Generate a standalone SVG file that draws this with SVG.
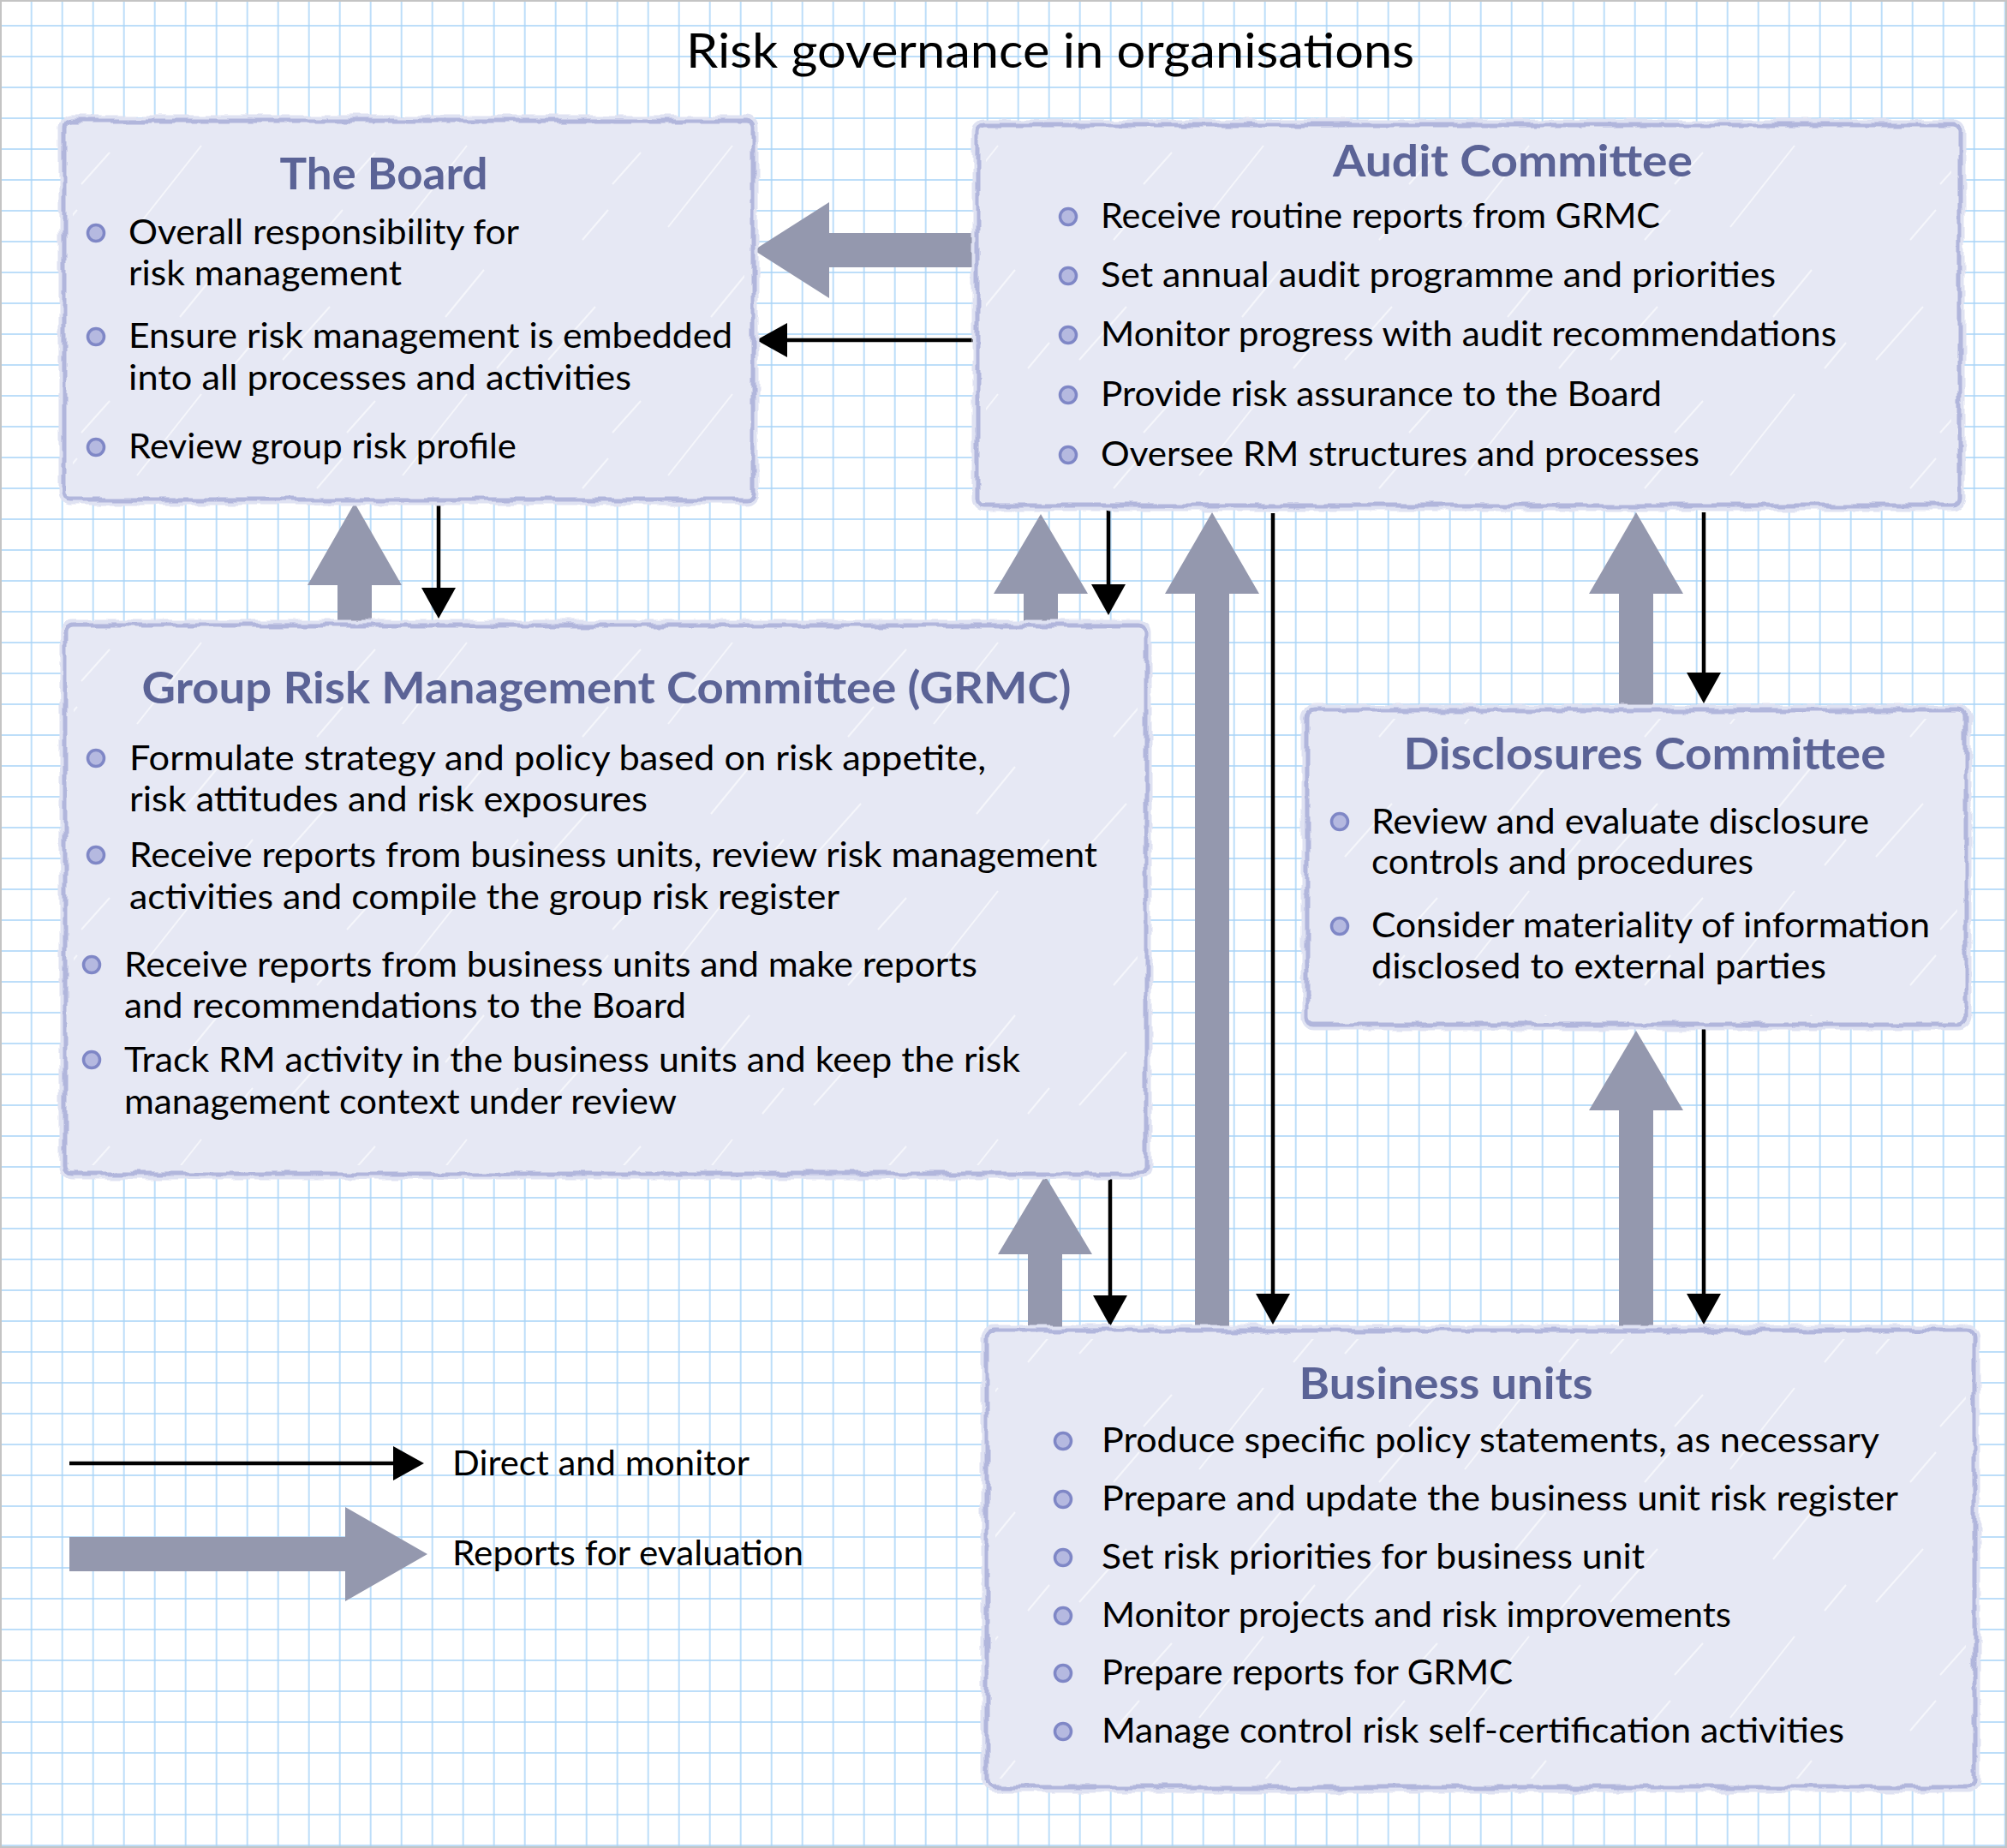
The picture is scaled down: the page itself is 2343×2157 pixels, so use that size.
<svg xmlns="http://www.w3.org/2000/svg" width="2343" height="2157" viewBox="0 0 2343 2157">
<defs>
<style>
.box{fill:#e6e8f4;stroke:#b1b6dc;stroke-width:5}
.halo{fill:none;stroke:#dfe2f2;stroke-width:13}
.scr{fill:url(#scratch)}
.hd{font-family:Lato,"Liberation Sans",sans-serif;font-weight:700;font-size:51px;fill:#5b6396;text-anchor:middle}
.tx{font-family:Lato,"Liberation Sans",sans-serif;font-size:40px;fill:#000}
.ttl{font-family:Lato,"Liberation Sans",sans-serif;font-size:56px;fill:#000;text-anchor:middle}
.bul{fill:#b5b9e0;stroke:#7f87c6;stroke-width:3.5}
.thick{fill:#9498ae}
.thin{stroke:#000;stroke-width:4.5;fill:none}
</style>
<pattern id="grid" patternUnits="userSpaceOnUse" x="18.7" y="12" width="36" height="36">
<path d="M18 0V36M0 18H36" stroke="#a8d4f7" stroke-width="1.5" fill="none"/>
</pattern>
<pattern id="scratch" patternUnits="userSpaceOnUse" width="310" height="290">
<path d="M20 130L75 68M160 265L235 170M95 215L128 178M210 80L255 25M60 280L90 245M270 140L295 110" stroke="#ffffff" stroke-width="2" stroke-opacity="0.6" fill="none"/>
</pattern>
<filter id="rough" x="-3%" y="-3%" width="106%" height="106%">
<feTurbulence type="fractalNoise" baseFrequency="0.04" numOctaves="2" seed="3" result="n"/>
<feDisplacementMap in="SourceGraphic" in2="n" scale="9" xChannelSelector="R" yChannelSelector="G"/>
</filter>
<marker id="ah" markerUnits="userSpaceOnUse" markerWidth="40" markerHeight="44" viewBox="0 -22 40 44" refX="0" refY="0" orient="auto">
<path d="M0 -20L36 0L0 20z" fill="#000"/>
</marker>
</defs>
<rect x="0" y="0" width="2343" height="2157" fill="#ffffff"/>
<rect x="0" y="0" width="2343" height="2157" fill="url(#grid)"/>
<rect x="1" y="1" width="2341" height="2155" fill="none" stroke="#c4c4c4" stroke-width="2"/>

<text class="ttl" x="1226" y="79" textLength="850" lengthAdjust="spacingAndGlyphs">Risk governance in organisations</text>

<g id="connectors">
<polygon class="thick" points="1143,272 968,272 968,236 880,292 968,348 968,312 1143,312"/>
<polygon class="thick" points="394,729 394,683 359,683 414,587 469,683 434,683 434,729"/>
<polygon class="thick" points="1195,727 1195,693 1160,693 1215,600 1270,693 1235,693 1235,727"/>
<polygon class="thick" points="1395,1552 1395,693 1360,693 1415,598 1470,693 1435,693 1435,1552"/>
<polygon class="thick" points="1890,828 1890,693 1855,693 1910,598 1965,693 1930,693 1930,828"/>
<polygon class="thick" points="1890,1552 1890,1296 1855,1296 1910,1203 1965,1296 1930,1296 1930,1552"/>
<polygon class="thick" points="1200,1552 1200,1464 1165,1464 1220,1372 1275,1464 1240,1464 1240,1552"/>
<path class="thin" d="M1141 397H919" marker-end="url(#ah)"/>
<path class="thin" d="M512 587V686" marker-end="url(#ah)"/>
<path class="thin" d="M1294 593V682" marker-end="url(#ah)"/>
<path class="thin" d="M1486 599V1510" marker-end="url(#ah)"/>
<path class="thin" d="M1989 598V785" marker-end="url(#ah)"/>
<path class="thin" d="M1989 1200V1510" marker-end="url(#ah)"/>
<path class="thin" d="M1296 1374V1512" marker-end="url(#ah)"/>
</g>

<g id="board">
<rect class="halo" x="75" y="141" width="804" height="442" rx="8" filter="url(#rough)"/>
<rect class="box" x="75" y="141" width="804" height="442" rx="8" filter="url(#rough)"/>
<rect class="scr" x="85" y="150" width="784" height="424"/>
<text class="hd" x="448" y="221" textLength="243" lengthAdjust="spacingAndGlyphs">The Board</text>
<circle class="bul" cx="112" cy="272" r="9.5"/>
<text class="tx" x="150" y="285" textLength="456" lengthAdjust="spacingAndGlyphs">Overall responsibility for</text>
<text class="tx" x="150" y="333" textLength="319" lengthAdjust="spacingAndGlyphs">risk management</text>
<circle class="bul" cx="112" cy="393" r="9.5"/>
<text class="tx" x="150" y="406" textLength="705" lengthAdjust="spacingAndGlyphs">Ensure risk management is embedded</text>
<text class="tx" x="150" y="455" textLength="587" lengthAdjust="spacingAndGlyphs">into all processes and activities</text>
<circle class="bul" cx="112" cy="522" r="9.5"/>
<text class="tx" x="150" y="535" textLength="453" lengthAdjust="spacingAndGlyphs">Review group risk profile</text>
</g>

<g id="audit">
<rect class="halo" x="1141" y="146" width="1147" height="444" rx="8" filter="url(#rough)"/>
<rect class="box" x="1141" y="146" width="1147" height="444" rx="8" filter="url(#rough)"/>
<rect class="scr" x="1151" y="156" width="1127" height="424"/>
<text class="hd" x="1766" y="206" textLength="420" lengthAdjust="spacingAndGlyphs">Audit Committee</text>
<circle class="bul" cx="1247" cy="253" r="9.5"/>
<text class="tx" x="1285" y="266" textLength="653" lengthAdjust="spacingAndGlyphs">Receive routine reports from GRMC</text>
<circle class="bul" cx="1247" cy="322" r="9.5"/>
<text class="tx" x="1285" y="335" textLength="788" lengthAdjust="spacingAndGlyphs">Set annual audit programme and priorities</text>
<circle class="bul" cx="1247" cy="391" r="9.5"/>
<text class="tx" x="1285" y="404" textLength="859" lengthAdjust="spacingAndGlyphs">Monitor progress with audit recommendations</text>
<circle class="bul" cx="1247" cy="461" r="9.5"/>
<text class="tx" x="1285" y="474" textLength="655" lengthAdjust="spacingAndGlyphs">Provide risk assurance to the Board</text>
<circle class="bul" cx="1247" cy="531" r="9.5"/>
<text class="tx" x="1285" y="544" textLength="699" lengthAdjust="spacingAndGlyphs">Oversee RM structures and processes</text>
</g>

<g id="grmc">
<rect class="halo" x="76" y="730" width="1262" height="640" rx="8" filter="url(#rough)"/>
<rect class="box" x="76" y="730" width="1262" height="640" rx="8" filter="url(#rough)"/>
<rect class="scr" x="86" y="740" width="1242" height="620"/>
<text class="hd" x="708" y="821" textLength="1085" lengthAdjust="spacingAndGlyphs">Group Risk Management Committee (GRMC)</text>
<circle class="bul" cx="112" cy="885" r="9.5"/>
<text class="tx" x="151" y="899" textLength="1000" lengthAdjust="spacingAndGlyphs">Formulate strategy and policy based on risk appetite,</text>
<text class="tx" x="151" y="947" textLength="605" lengthAdjust="spacingAndGlyphs">risk attitudes and risk exposures</text>
<circle class="bul" cx="112" cy="998" r="9.5"/>
<text class="tx" x="151" y="1012" textLength="1130" lengthAdjust="spacingAndGlyphs">Receive reports from business units, review risk management</text>
<text class="tx" x="151" y="1061" textLength="829" lengthAdjust="spacingAndGlyphs">activities and compile the group risk register</text>
<circle class="bul" cx="107" cy="1126" r="9.5"/>
<text class="tx" x="145" y="1140" textLength="996" lengthAdjust="spacingAndGlyphs">Receive reports from business units and make reports</text>
<text class="tx" x="145" y="1188" textLength="656" lengthAdjust="spacingAndGlyphs">and recommendations to the Board</text>
<circle class="bul" cx="107" cy="1237" r="9.5"/>
<text class="tx" x="145" y="1251" textLength="1046" lengthAdjust="spacingAndGlyphs">Track RM activity in the business units and keep the risk</text>
<text class="tx" x="145" y="1300" textLength="645" lengthAdjust="spacingAndGlyphs">management context under review</text>
</g>

<g id="disclosures">
<rect class="halo" x="1526" y="829" width="769" height="367" rx="8" filter="url(#rough)"/>
<rect class="box" x="1526" y="829" width="769" height="367" rx="8" filter="url(#rough)"/>
<rect class="scr" x="1536" y="839" width="749" height="347"/>
<text class="hd" x="1920" y="898" textLength="563" lengthAdjust="spacingAndGlyphs">Disclosures Committee</text>
<circle class="bul" cx="1564" cy="959" r="9.5"/>
<text class="tx" x="1601" y="973" textLength="581" lengthAdjust="spacingAndGlyphs">Review and evaluate disclosure</text>
<text class="tx" x="1601" y="1020" textLength="446" lengthAdjust="spacingAndGlyphs">controls and procedures</text>
<circle class="bul" cx="1564" cy="1081" r="9.5"/>
<text class="tx" x="1601" y="1094" textLength="652" lengthAdjust="spacingAndGlyphs">Consider materiality of information</text>
<text class="tx" x="1601" y="1142" textLength="531" lengthAdjust="spacingAndGlyphs">disclosed to external parties</text>
</g>

<g id="business-units">
<rect class="halo" x="1152" y="1553" width="1153" height="533" rx="8" filter="url(#rough)"/>
<rect class="box" x="1152" y="1553" width="1153" height="533" rx="8" filter="url(#rough)"/>
<rect class="scr" x="1162" y="1563" width="1133" height="513"/>
<text class="hd" x="1688" y="1633" textLength="343" lengthAdjust="spacingAndGlyphs">Business units</text>
<circle class="bul" cx="1241" cy="1682" r="9.5"/>
<text class="tx" x="1286" y="1695" textLength="908" lengthAdjust="spacingAndGlyphs">Produce specific policy statements, as necessary</text>
<circle class="bul" cx="1241" cy="1750" r="9.5"/>
<text class="tx" x="1286" y="1763" textLength="930" lengthAdjust="spacingAndGlyphs">Prepare and update the business unit risk register</text>
<circle class="bul" cx="1241" cy="1818" r="9.5"/>
<text class="tx" x="1286" y="1831" textLength="634" lengthAdjust="spacingAndGlyphs">Set risk priorities for business unit</text>
<circle class="bul" cx="1241" cy="1886" r="9.5"/>
<text class="tx" x="1286" y="1899" textLength="735" lengthAdjust="spacingAndGlyphs">Monitor projects and risk improvements</text>
<circle class="bul" cx="1241" cy="1953" r="9.5"/>
<text class="tx" x="1286" y="1966" textLength="480" lengthAdjust="spacingAndGlyphs">Prepare reports for GRMC</text>
<circle class="bul" cx="1241" cy="2021" r="9.5"/>
<text class="tx" x="1286" y="2034" textLength="867" lengthAdjust="spacingAndGlyphs">Manage control risk self-certification activities</text>
</g>

<g id="legend">
<path class="thin" d="M81 1708H459" marker-end="url(#ah)"/>
<text class="tx" x="528" y="1722" textLength="347" lengthAdjust="spacingAndGlyphs">Direct and monitor</text>
<polygon class="thick" points="81,1794 403,1794 403,1759 499,1814 403,1869 403,1834 81,1834"/>
<text class="tx" x="528" y="1827" textLength="410" lengthAdjust="spacingAndGlyphs">Reports for evaluation</text>
</g>
</svg>
